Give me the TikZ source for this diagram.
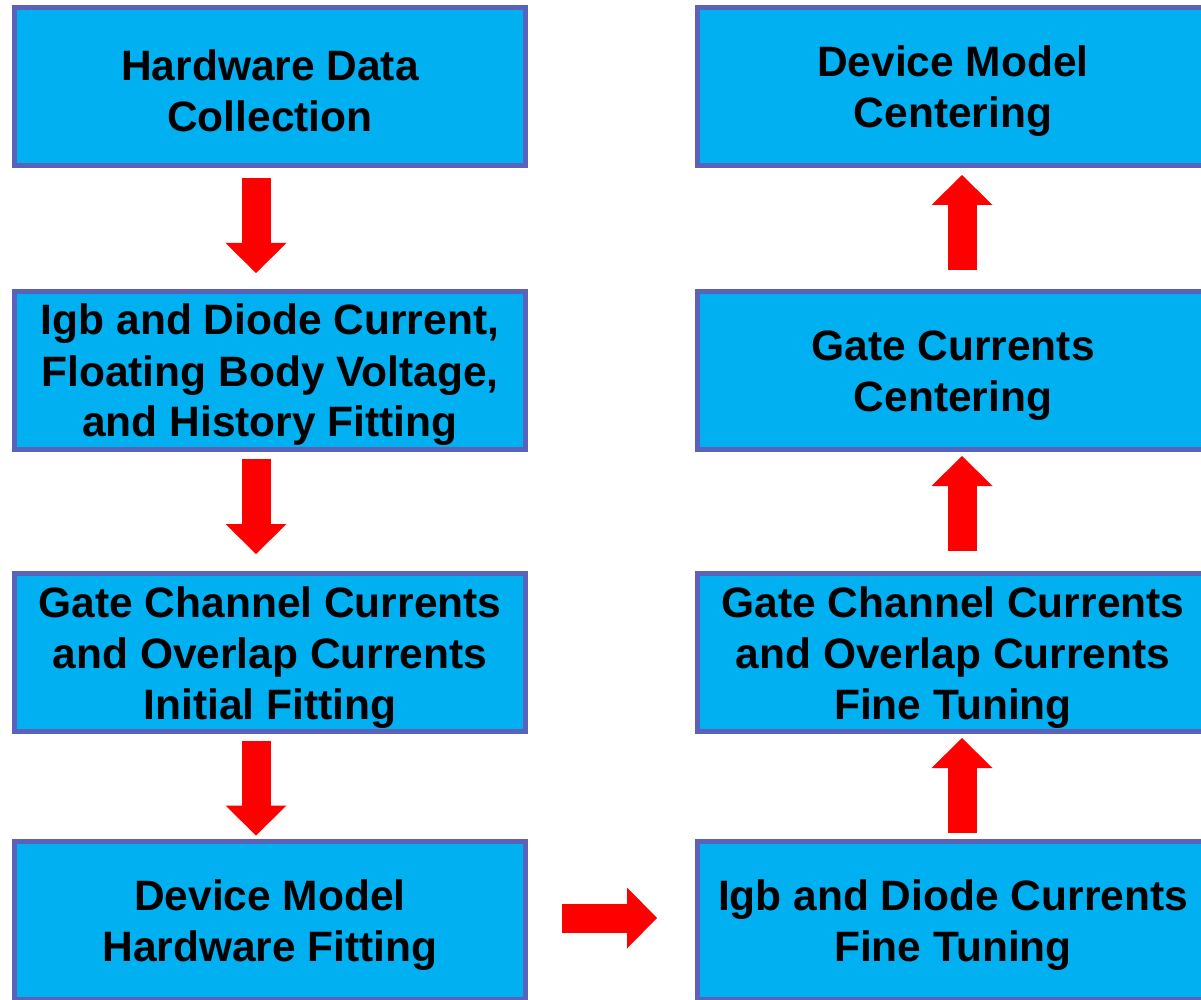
\documentclass[tikz,border=0pt]{standalone}
\usepackage{fontspec}
\setmainfont{Liberation Sans}
\usetikzlibrary{arrows.meta}
\definecolor{boxfill}{HTML}{00B0F0}
\definecolor{boxedge}{HTML}{5A62B9}
\definecolor{arrowred}{HTML}{FF0000}
\newcommand{\topstrut}{\rule{0pt}{40pt}}
\tikzset{
  stagebox/.style={draw=boxedge, fill=boxfill, line width=5pt, minimum width=511pt,
    minimum height=158pt, inner sep=0pt, align=center,
    font=\fontsize{42.5}{51}\selectfont\bfseries},
  blockarrow/.style={draw=arrowred, line width=29pt,
    -{Triangle[width=61pt,length=30pt,line width=0pt]}}
}

\begin{document}
\begin{tikzpicture}[x=1pt,y=-1pt]
\useasboundingbox (0,0) rectangle (1201,1000);
\clip (0,0) rectangle (1201,1000);

%Left column
\node [stagebox] (hwdata) at (270,86.5) {\topstrut Hardware Data\\Collection};
\node [stagebox] (igbfit) at (270,370.5) {\topstrut Igb and Diode Current,\\Floating Body Voltage,\\and History Fitting};
\node [stagebox] (gcinit) at (270,652.5) {\topstrut Gate Channel Currents\\and Overlap Currents\\Initial Fitting};
\node [stagebox] (hwfit) at (270,920) {\topstrut Device Model\\Hardware Fitting};

%Right column
\node [stagebox] (igbtune) at (953,920) {\topstrut Igb and Diode Currents\\Fine Tuning};
\node [stagebox] (gctune) at (953,652.5) {\topstrut Gate Channel Currents\\and Overlap Currents\\Fine Tuning};
\node [stagebox] (gccenter) at (953,370.5) {\topstrut Gate Currents\\Centering};
\node [stagebox] (dmcenter) at (953,86.5) {\topstrut Device Model\\Centering};

%Down arrows
\draw [blockarrow, shorten <=10pt, shorten >=16pt] ([xshift=-14pt]hwdata.south) -- ([xshift=-14pt]igbfit.north);
\draw [blockarrow, shorten <=7pt, shorten >=17pt] ([xshift=-14pt]igbfit.south) -- ([xshift=-14pt]gcinit.north);
\draw [blockarrow, shorten <=7pt, shorten >=3pt] ([xshift=-14pt]gcinit.south) -- ([xshift=-14pt]hwfit.north);

%Across
\draw [blockarrow, shorten <=34pt, shorten >=38pt] ([yshift=2pt]hwfit.east) -- ([yshift=2pt]igbtune.west);

%Up arrows
\draw [blockarrow, shorten <=6pt, shorten >=4pt] ([xshift=9pt]igbtune.north) -- ([xshift=9pt]gctune.south);
\draw [blockarrow, shorten <=20pt, shorten >=4pt] ([xshift=9pt]gctune.north) -- ([xshift=9pt]gccenter.south);
\draw [blockarrow, shorten <=19pt, shorten >=7pt] ([xshift=9pt]gccenter.north) -- ([xshift=9pt]dmcenter.south);

\end{tikzpicture}
\end{document}
